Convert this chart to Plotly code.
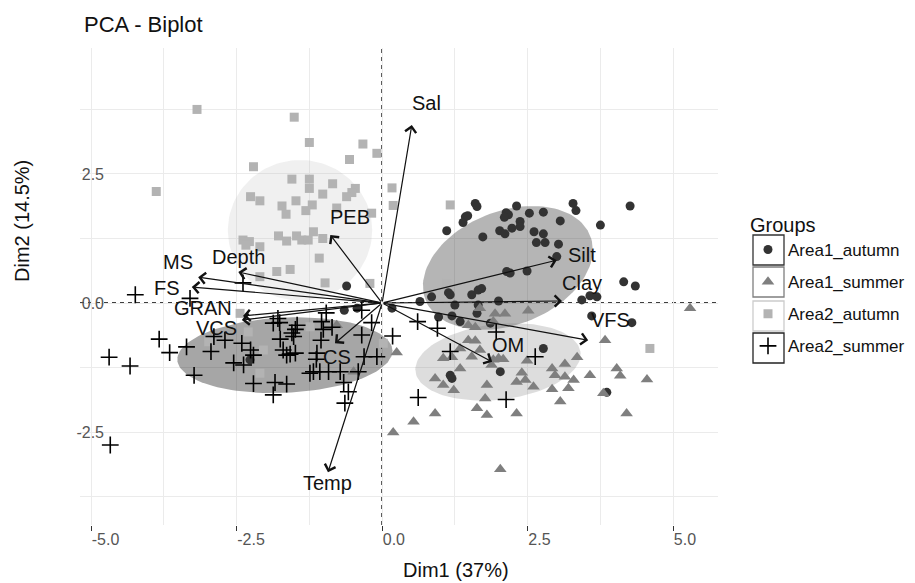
import numpy as np
import plotly.graph_objects as go

groups = ["Area1_autumn", "Area1_summer", "Area2_autumn", "Area2_summer"]

a1_aut_x = [1.60, 1.63, 2.31, 3.28, 3.33, 4.26, 1.43, 1.39, 1.47, 2.13, 2.17, 2.10, 2.53, 2.77, 3.06, 3.75,
            1.11, 1.73, 2.02, 2.11, 2.23, 2.37, 2.37, 2.61, 2.77, 2.65, 2.80, 3.03, 3.00, 2.14, 2.20, 2.49,
            4.15, 4.35, 0.65, 0.85, 1.14, 1.17, 1.54, 1.65, 1.71, 2.00, 1.25, 1.65, 3.43, 3.57, 3.69, 0.17,
            0.97, 1.20, 1.63, 1.34, 1.86, 3.60, 4.29, 2.77, 2.03, 1.17, 1.20, 3.86, -0.61, -0.65, -2.27, -0.43]
a1_aut_y = [1.93, 1.87, 1.88, 1.93, 1.79, 1.88, 1.67, 1.56, 1.69, 1.75, 1.71, 1.66, 1.74, 1.76, 1.59, 1.51,
            1.40, 1.28, 1.40, 1.34, 1.45, 1.58, 1.48, 1.38, 1.34, 1.17, 1.17, 1.14, 0.90, 0.61, 0.58, 0.62,
            0.41, 0.33, 0.03, 0.12, 0.20, 0.16, 0.16, 0.25, 0.28, 0.04, -0.04, -0.04, 0.06, 0.14, 0.12, -0.10,
            -0.27, -0.25, -0.20, -0.36, -0.39, -0.25, -0.38, -0.88, -1.33, -1.40, -1.46, -1.73, 0.33, -0.14, -1.10, -0.10]

a1_sum_x = [5.29, 2.51, 1.68, 1.94, 2.11, 1.91, 1.48, 1.60, 3.83, 1.48, 1.60, 1.34, 1.68, 0.25, 1.05, 1.20,
            1.54, 1.91, 2.00, 2.08, 1.88, 2.49, 3.35, 3.14, 1.34, 2.92, 4.03, 0.91, 2.40, 2.31, 2.46, 2.97,
            3.14, 3.29, 3.57, 4.09, 4.55, 1.05, 1.23, 1.80, 2.60, 2.92, 3.20, 3.80, 1.77, 1.63, 3.06, 0.91,
            1.80, 2.31, 4.20, 0.54, 0.19, 2.03, -0.78, -0.49]
a1_sum_y = [-0.10, -0.15, -0.10, -0.21, -0.21, -0.36, -0.43, -0.47, -0.72, -0.72, -0.73, -0.88, -0.91, -0.96, -1.07, -1.05,
            -1.04, -1.10, -1.07, -1.09, -1.20, -1.12, -1.05, -1.18, -1.27, -1.27, -1.27, -1.46, -1.35, -1.53, -1.49, -1.40,
            -1.43, -1.49, -1.40, -1.41, -1.48, -1.59, -1.69, -1.59, -1.62, -1.67, -1.65, -1.75, -1.85, -2.04, -1.91, -2.14,
            -2.17, -2.14, -2.14, -2.30, -2.51, -3.22, -0.43, -1.33]

a2_aut_x = [-3.18, -1.51, -1.25, -0.33, -0.09, -0.56, -2.21, -3.88, -1.55, -1.25, -1.25, -0.85, -1.02, -0.46, -0.52, -0.61,
            -2.26, -2.10, -1.48, -1.20, -1.31, -1.72, -1.65, -0.78, -0.18, -1.78, -1.64, -1.47, -1.38, -1.27, -1.18, -1.02,
            -2.39, -2.28, -2.34, -2.10, -1.08, 0.17, 0.19, 1.17, -1.81, -1.58, -2.10, -0.98, -0.21, -2.44, -2.30, -2.04,
            -2.10, -2.98, -1.24, 0.02, 1.11, 4.60]
a2_aut_y = [3.75, 3.60, 3.11, 3.08, 2.90, 2.78, 2.64, 2.16, 2.40, 2.40, 2.22, 2.31, 2.11, 2.22, 2.14, 2.06,
            2.06, 1.98, 1.98, 1.90, 1.79, 1.88, 1.72, 1.84, 1.74, 1.30, 1.20, 1.30, 1.22, 1.22, 1.38, 1.25,
            1.22, 1.19, 1.12, 1.09, 0.87, 2.23, 1.89, 1.90, 0.61, 0.65, 0.51, 0.39, 0.38, -0.20, -0.56, -0.91,
            -1.36, -0.75, -0.46, -0.78, 0.38, -0.88]

a2_sum_x = [-2.39, -4.24, -3.30, -0.96, -0.35, -1.79, -1.87, -1.76, -1.46, -1.49, -1.04, -0.86, -1.01, -0.18, -1.55, -1.52,
            -1.75, -1.05, -0.35, -3.83, -2.89, -2.70, -2.41, -2.26, -2.21, -3.65, -3.36, -2.94, -1.70, -1.64, -1.58, -1.49,
            -1.12, -1.13, -0.31, -0.09, -4.69, -4.33, -2.55, -2.38, -1.18, -1.24, -1.07, -0.92, -0.72, -0.41, -3.23, -0.66,
            -0.58, -2.21, -1.84, -1.64, -1.87, -0.64, -4.67, 0.61, 0.95, 0.18, 1.96, 1.17, 2.63, 0.62, 2.13]
a2_sum_y = [0.39, 0.16, 0.09, -0.19, -0.14, -0.30, -0.39, -0.38, -0.43, -0.51, -0.36, -0.47, -0.51, -0.38, -0.58, -0.65,
            -0.70, -0.72, -0.62, -0.70, -0.65, -0.72, -0.78, -0.91, -1.01, -0.96, -0.85, -0.94, -0.91, -1.01, -0.99, -0.97,
            -0.97, -1.09, -1.04, -1.04, -1.05, -1.22, -1.16, -1.20, -1.33, -1.36, -1.33, -1.33, -1.33, -1.33, -1.40, -1.54,
            -1.72, -1.56, -1.54, -1.57, -1.78, -1.94, -2.75, -0.36, -0.49, -0.64, -0.56, -0.94, -1.04, -1.83, -1.87]

# concentration ellipses (center, semi-axes, rotation in degrees)
ell_cx = [2.16, 1.99, -1.41, -1.67]
ell_cy = [0.68, -1.14, 1.41, -1.01]
ell_rx = [1.55, 1.43, 1.24, 1.85]
ell_ry = [1.08, 0.73, 1.36, 0.73]
ell_ang = [28, 8, 0, 3]

# variable loadings (arrow tips) and label positions
var_names = ["Sal", "PEB", "Silt", "Clay", "VFS", "OM", "CS", "Temp", "VCS", "GRAN", "FS", "MS", "Depth"]
var_x = [0.51, -0.89, 3.00, 3.09, 3.54, 1.89, -0.81, -0.93, -2.41, -2.39, -3.27, -3.16, -2.47]
var_y = [3.45, 1.32, 0.83, 0.04, -0.72, -1.14, -0.78, -3.28, -0.33, -0.25, 0.31, 0.50, 0.60]
lab_x = [0.77, -0.55, 3.44, 3.44, 3.92, 2.17, -0.77, -0.93, -2.84, -3.07, -3.70, -3.50, -2.47]
lab_y = [3.88, 1.67, 0.93, 0.39, -0.33, -0.81, -1.05, -3.49, -0.48, -0.10, 0.29, 0.80, 0.89]

x_ticks = [-5.0, -2.5, 0.0, 2.5, 5.0]
y_ticks = [-2.5, 0.0, 2.5]

FONT = "Liberation Sans, Arial, sans-serif"
pt_colors = ["#333333", "#7f7f7f", "#b3b3b3", "#000000"]
ell_fill = ["rgba(51,51,51,0.36)", "rgba(128,128,128,0.27)", "rgba(179,179,179,0.2)", "rgba(0,0,0,0.35)"]
box_line = ["#333333", "#7f7f7f", "#cccccc", "#222222"]
symbols = ["circle", "triangle-up", "square", "cross-thin"]
sizes = [9, 11, 9, 12]

# plot area in pixels (fixed margins)
L, R, T, B = 80, 197, 48, 58
W, H = 915, 583
pw, ph = W - L - R, H - T - B


def px_x(p):
    return (p - L) / pw


def px_y(p):
    return (H - B - p) / ph


fig = go.Figure()

t = np.linspace(0, 2 * np.pi, 120)
for i in range(4):
    a = np.deg2rad(ell_ang[i])
    ex = ell_cx[i] + ell_rx[i] * np.cos(t) * np.cos(a) - ell_ry[i] * np.sin(t) * np.sin(a)
    ey = ell_cy[i] + ell_rx[i] * np.cos(t) * np.sin(a) + ell_ry[i] * np.sin(t) * np.cos(a)
    fig.add_trace(go.Scatter(x=ex, y=ey, mode="lines", fill="toself", fillcolor=ell_fill[i],
                             line=dict(width=0), showlegend=False, hoverinfo="skip"))

pts = [(a1_aut_x, a1_aut_y), (a1_sum_x, a1_sum_y), (a2_aut_x, a2_aut_y), (a2_sum_x, a2_sum_y)]
for i, (px, py) in enumerate(pts):
    marker = dict(symbol=symbols[i], size=sizes[i], color=pt_colors[i])
    if symbols[i] == "cross-thin":
        marker["line"] = dict(width=1.6, color=pt_colors[i])
    else:
        marker["line"] = dict(width=0)
    fig.add_trace(go.Scatter(x=px, y=py, mode="markers", name=groups[i], marker=marker,
                             legendgroup=groups[i]))

shapes = [
    dict(type="line", xref="x", yref="paper", x0=0, x1=0, y0=0, y1=1,
         line=dict(color="black", width=1.5, dash="4px,4px"), layer="below"),
    dict(type="line", xref="paper", yref="y", x0=0, x1=1, y0=0, y1=0,
         line=dict(color="black", width=1.5, dash="4px,4px"), layer="below"),
]
# legend key boxes
box_centers = [250, 282, 316, 348]
for i, c in enumerate(box_centers):
    shapes.append(dict(type="rect", xref="paper", yref="paper",
                       x0=px_x(753), x1=px_x(784), y0=px_y(c + 15), y1=px_y(c - 15),
                       line=dict(color=box_line[i], width=1.3), fillcolor="rgba(0,0,0,0)", layer="above"))

annotations = []
for n, vx, vy, lx, ly in zip(var_names, var_x, var_y, lab_x, lab_y):
    annotations.append(dict(x=vx, y=vy, ax=0, ay=0, xref="x", yref="y", axref="x", ayref="y",
                            text="", showarrow=True, arrowhead=4, arrowsize=1.8, arrowwidth=1.2,
                            arrowcolor="#111111", standoff=0, startstandoff=0))
    annotations.append(dict(x=lx, y=ly, xref="x", yref="y", text=n, showarrow=False,
                            font=dict(family=FONT, size=20, color="#111111")))

annotations += [
    dict(text="PCA - Biplot", x=px_x(82), y=px_y(25), xref="paper", yref="paper", xanchor="left",
         yanchor="middle", showarrow=False, font=dict(family=FONT, size=22, color="#111111")),
    dict(text="Dim1 (37%)", x=px_x(456), y=px_y(570), xref="paper", yref="paper", xanchor="center",
         yanchor="middle", showarrow=False, font=dict(family=FONT, size=20, color="#111111")),
    dict(text="Dim2 (14.5%)", x=px_x(22), y=px_y(221), xref="paper", yref="paper", xanchor="center",
         yanchor="middle", textangle=-90, showarrow=False, font=dict(family=FONT, size=20, color="#111111")),
]

fig.update_layout(
    width=W, height=H,
    margin=dict(l=L, r=R, t=T, b=B),
    plot_bgcolor="white", paper_bgcolor="white",
    font=dict(family=FONT, color="#111111"),
    shapes=shapes, annotations=annotations,
    legend=dict(xref="container", yref="container", x=748 / W, y=1 - 206 / H,
                xanchor="left", yanchor="top",
                title=dict(text="Groups", font=dict(size=20, family=FONT)),
                font=dict(size=17, family=FONT), tracegroupgap=7, bgcolor="rgba(0,0,0,0)"),
)
fig.update_xaxes(range=[-5.19, 5.77], tickvals=x_ticks, ticktext=[f"{v:.1f}" for v in x_ticks],
                 showgrid=True, gridcolor="#ebebeb", gridwidth=1.2, zeroline=False,
                 ticks="outside", ticklen=5, tickwidth=1.3, tickcolor="#333333",
                 ticklabelposition="outside right", automargin=False,
                 tickfont=dict(size=16, color="#555555", family=FONT),
                 minor=dict(tickvals=[-3.75, -1.25, 1.25, 3.75], showgrid=True, gridcolor="#ebebeb", gridwidth=1.2),
                 showline=False)
fig.update_yaxes(range=[-4.30, 4.94], tickvals=y_ticks, ticktext=[f"{v:.1f}" for v in y_ticks],
                 showgrid=True, gridcolor="#ebebeb", gridwidth=1.2, zeroline=False,
                 ticks="", ticklabelstandoff=-25, automargin=False,
                 tickfont=dict(size=16, color="#555555", family=FONT),
                 minor=dict(tickvals=[-3.75, -1.25, 1.25, 3.75], showgrid=True, gridcolor="#ebebeb", gridwidth=1.2),
                 showline=False)

fig.write_html("out.html", config={"displayModeBar": False},
               post_script="document.body.style.margin='0px';")
